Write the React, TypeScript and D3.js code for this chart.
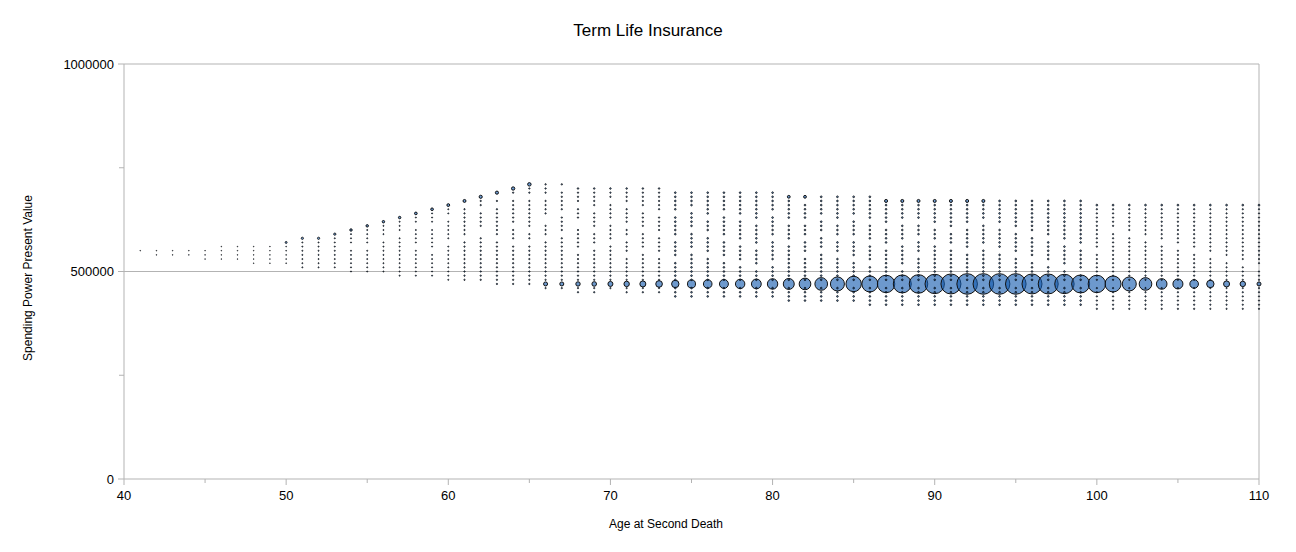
import * as React from 'react'
import * as d3 from 'd3'

// values are in units of 10 000
const UNIT = 10000;

const ages = [
  41, 42, 43, 44, 45, 46, 47, 48, 49, 50,
  51, 52, 53, 54, 55, 56, 57, 58, 59, 60,
  61, 62, 63, 64, 65, 66, 67, 68, 69, 70,
  71, 72, 73, 74, 75, 76, 77, 78, 79, 80,
  81, 82, 83, 84, 85, 86, 87, 88, 89, 90,
  91, 92, 93, 94, 95, 96, 97, 98, 99, 100,
  101, 102, 103, 104, 105, 106, 107, 108, 109, 110,
];

const columnValues: number[][] = [
  [55],
  [55, 54],
  [55, 54],
  [55, 54],
  [55, 54, 53],
  [56, 55, 54, 53],
  [56, 55, 54, 53],
  [56, 55, 54, 53, 52],
  [56, 55, 54, 53, 52],
  [57, 56, 55, 54, 53, 52],
  [58, 57, 56, 55, 54, 53, 52, 51],
  [58, 57, 56, 55, 54, 53, 52, 51],
  [59, 58, 57, 56, 55, 54, 53, 52, 51],
  [60, 59, 58, 57, 55, 54, 53, 52, 51, 50],
  [61, 60, 59, 58, 57, 55, 54, 53, 52, 51, 50],
  [62, 61, 60, 59, 57, 56, 55, 54, 53, 52, 51, 50],
  [63, 62, 61, 60, 58, 57, 56, 55, 54, 53, 52, 51, 50, 49],
  [64, 63, 62, 60, 59, 58, 57, 55, 54, 53, 52, 51, 50, 49],
  [65, 64, 63, 62, 60, 59, 58, 57, 56, 54, 53, 52, 51, 50, 49],
  [66, 65, 64, 62, 61, 60, 59, 58, 56, 55, 54, 53, 52, 51, 50, 49, 48],
  [67, 65, 64, 63, 62, 61, 60, 59, 57, 56, 55, 54, 53, 52, 51, 50, 49, 48],
  [68, 67, 66, 64, 63, 62, 61, 58, 57, 56, 55, 54, 53, 52, 51, 50, 49, 48],
  [69, 67, 65, 64, 63, 62, 61, 60, 59, 57, 56, 55, 54, 53, 52, 51, 50, 49, 48, 47],
  [70, 69, 67, 66, 65, 64, 63, 62, 60, 59, 58, 56, 55, 54, 53, 52, 51, 50, 49, 48, 47],
  [71, 70, 69, 67, 66, 65, 64, 63, 62, 61, 59, 58, 56, 55, 54, 53, 52, 51, 50, 49, 48, 47],
  [71, 70, 69, 67, 66, 65, 64, 61, 60, 59, 57, 56, 55, 54, 53, 52, 51, 50, 49, 48, 46],
  [71, 69, 68, 67, 66, 65, 63, 62, 61, 60, 58, 57, 56, 55, 54, 53, 52, 51, 50, 49, 48, 46],
  [70, 69, 68, 67, 65, 64, 63, 60, 59, 58, 57, 56, 54, 53, 52, 51, 50, 49, 48, 46, 45],
  [70, 69, 68, 67, 66, 64, 63, 62, 61, 59, 58, 57, 55, 54, 53, 52, 51, 50, 49, 48, 46, 45],
  [70, 69, 68, 66, 65, 64, 63, 61, 60, 59, 58, 56, 55, 54, 53, 52, 51, 50, 49, 48, 46],
  [70, 69, 68, 67, 65, 64, 63, 62, 60, 59, 57, 56, 55, 53, 52, 51, 50, 49, 48, 46, 45],
  [70, 69, 68, 67, 66, 64, 63, 62, 61, 59, 58, 57, 56, 54, 53, 52, 51, 50, 49, 48, 46, 45],
  [70, 69, 68, 67, 66, 65, 63, 62, 61, 60, 58, 57, 56, 55, 53, 52, 51, 50, 49, 48, 46, 45],
  [69, 68, 67, 66, 65, 63, 62, 61, 60, 59, 57, 56, 55, 54, 52, 51, 50, 49, 48, 46, 45, 44],
  [69, 68, 67, 66, 64, 63, 62, 61, 59, 58, 57, 56, 54, 53, 52, 51, 50, 49, 48, 46, 45, 44],
  [69, 68, 67, 66, 65, 64, 62, 61, 60, 58, 57, 56, 55, 53, 52, 51, 50, 49, 48, 46, 45, 44],
  [69, 68, 67, 66, 65, 63, 62, 61, 60, 59, 57, 56, 55, 54, 52, 51, 50, 49, 48, 46, 45, 44],
  [69, 68, 67, 66, 65, 64, 62, 61, 60, 59, 58, 56, 55, 54, 53, 51, 50, 49, 48, 46, 45, 44],
  [69, 68, 67, 66, 65, 64, 63, 61, 60, 59, 58, 57, 55, 54, 53, 52, 50, 49, 48, 46, 45, 44],
  [69, 68, 67, 66, 65, 63, 62, 61, 60, 59, 57, 56, 55, 54, 53, 51, 50, 49, 48, 46, 45, 44],
  [68, 67, 66, 65, 64, 63, 61, 60, 59, 58, 56, 55, 54, 53, 52, 51, 50, 49, 48, 46, 45, 44, 43],
  [68, 66, 65, 64, 63, 61, 60, 59, 57, 56, 55, 53, 52, 51, 50, 49, 48, 46, 45, 44, 43],
  [68, 67, 66, 65, 64, 62, 61, 60, 58, 57, 56, 54, 53, 52, 51, 50, 49, 48, 46, 45, 44, 43],
  [68, 67, 66, 65, 64, 63, 61, 60, 59, 57, 56, 55, 53, 52, 51, 50, 49, 48, 46, 45, 44, 43],
  [68, 67, 66, 65, 64, 62, 61, 60, 59, 57, 56, 55, 54, 52, 51, 50, 49, 48, 46, 45, 44, 43],
  [68, 67, 66, 65, 64, 63, 61, 60, 59, 58, 56, 55, 54, 53, 51, 50, 49, 48, 46, 45, 44, 43, 42],
  [67, 66, 65, 64, 63, 62, 60, 59, 58, 57, 55, 54, 53, 52, 51, 50, 49, 48, 46, 45, 44, 43, 42],
  [67, 66, 65, 64, 63, 61, 60, 59, 58, 56, 55, 54, 53, 52, 50, 49, 48, 46, 45, 44, 43, 42],
  [67, 66, 65, 64, 63, 61, 60, 59, 57, 56, 55, 53, 52, 51, 50, 49, 48, 46, 45, 44, 43, 42],
  [67, 66, 65, 64, 63, 62, 60, 59, 58, 56, 55, 54, 53, 52, 51, 50, 49, 48, 46, 45, 44, 43, 42],
  [67, 66, 65, 64, 63, 62, 61, 59, 58, 57, 55, 54, 53, 52, 51, 50, 49, 48, 46, 45, 44, 43, 42],
  [67, 66, 65, 64, 63, 62, 60, 59, 58, 57, 56, 54, 53, 52, 51, 50, 49, 48, 46, 45, 44, 43, 42],
  [67, 66, 65, 64, 63, 61, 60, 59, 58, 57, 55, 54, 53, 52, 51, 50, 49, 48, 46, 45, 44, 43, 42],
  [67, 66, 65, 64, 63, 62, 60, 59, 58, 57, 56, 54, 53, 52, 51, 50, 49, 48, 46, 45, 44, 43, 42],
  [67, 66, 65, 64, 63, 62, 61, 59, 58, 57, 56, 55, 53, 52, 51, 50, 49, 48, 46, 45, 44, 43, 42],
  [67, 66, 65, 64, 63, 62, 61, 60, 58, 57, 56, 55, 54, 52, 51, 50, 49, 48, 46, 45, 44, 43, 42],
  [67, 66, 65, 64, 63, 62, 61, 60, 59, 57, 56, 55, 54, 53, 51, 50, 49, 48, 46, 45, 44, 43, 42],
  [67, 66, 65, 64, 63, 62, 61, 60, 59, 58, 56, 55, 54, 53, 52, 50, 49, 48, 46, 45, 44, 43, 42],
  [67, 66, 65, 64, 63, 62, 61, 60, 59, 58, 57, 55, 54, 53, 52, 51, 49, 48, 46, 45, 44, 43, 42],
  [66, 65, 64, 63, 62, 61, 60, 59, 58, 57, 56, 54, 53, 52, 51, 50, 49, 48, 46, 45, 44, 43, 42, 41],
  [66, 65, 64, 63, 62, 61, 59, 58, 57, 56, 55, 54, 53, 52, 51, 50, 49, 48, 46, 45, 44, 43, 42, 41],
  [66, 65, 64, 63, 62, 61, 60, 58, 57, 56, 55, 54, 53, 52, 51, 50, 49, 48, 46, 45, 44, 43, 42, 41],
  [66, 65, 64, 63, 62, 61, 60, 59, 57, 56, 55, 54, 53, 52, 51, 50, 49, 48, 46, 45, 44, 43, 42, 41],
  [66, 65, 64, 63, 62, 61, 60, 59, 58, 56, 55, 54, 53, 52, 51, 50, 49, 48, 46, 45, 44, 43, 42, 41],
  [66, 65, 64, 63, 62, 61, 60, 59, 58, 57, 55, 54, 53, 52, 51, 50, 49, 48, 46, 45, 44, 43, 42, 41],
  [66, 65, 64, 63, 62, 61, 60, 59, 58, 57, 56, 54, 53, 52, 51, 50, 49, 48, 46, 45, 44, 43, 42, 41],
  [66, 65, 64, 63, 62, 61, 60, 59, 58, 57, 56, 55, 53, 52, 51, 50, 49, 48, 46, 45, 44, 43, 42, 41],
  [66, 65, 64, 63, 62, 61, 60, 59, 58, 57, 56, 55, 54, 52, 51, 50, 49, 48, 46, 45, 44, 43, 42, 41],
  [66, 65, 64, 63, 62, 61, 60, 59, 58, 57, 56, 55, 54, 53, 51, 50, 49, 48, 46, 45, 44, 43, 42, 41],
  [66, 65, 64, 63, 62, 61, 60, 59, 58, 57, 56, 55, 54, 53, 52, 50, 49, 48, 46, 45, 44, 43, 42, 41],
];

// bubble size of the small dots in each column, and of the top dot
const dotSizes = [
  0.12, 0.12, 0.12, 0.12, 0.12, 0.12, 0.12, 0.12, 0.12, 0.16,
  0.3, 0.3, 0.3, 0.3, 0.3, 0.3, 0.3, 0.3, 0.3, 0.3,
  0.45, 0.45, 0.45, 0.45, 0.45, 0.45, 0.45, 0.45, 0.45, 0.45,
  0.45, 0.45, 0.45, 0.7, 0.7, 0.7, 0.7, 0.7, 0.7, 0.7,
  0.7, 0.7, 0.7, 0.7, 0.7, 0.7, 0.7, 0.7, 0.7, 0.7,
  0.7, 0.7, 0.7, 0.7, 0.7, 0.7, 0.7, 0.7, 0.7, 0.45,
  0.45, 0.45, 0.45, 0.45, 0.45, 0.45, 0.4, 0.4, 0.4, 0.4,
];

const topSizes = [
  0.12, 0.12, 0.12, 0.12, 0.12, 0.12, 0.12, 0.12, 0.12, 1,
  1.3, 1.3, 1.3, 1.5, 1.5, 1.5, 1.5, 1.8, 1.8, 2,
  2.2, 2.5, 2.5, 2.8, 3, 0.5, 0.5, 0.6, 0.6, 0.6,
  0.6, 0.6, 0.6, 0.7, 0.7, 0.7, 0.7, 0.7, 0.7, 0.7,
  2, 2, 0.8, 0.8, 0.8, 0.8, 2.3, 2.3, 2.3, 2.3,
  2.3, 2.3, 2.3, 0.8, 0.8, 0.8, 0.8, 0.8, 0.8, 0.8,
  0.8, 0.8, 0.8, 0.8, 0.8, 0.8, 0.8, 0.8, 0.8, 0.8,
];

// the large bubbles
const bubbleAges = [
  66, 67, 68, 69, 70, 71, 72, 73, 74, 75,
  76, 77, 78, 79, 80, 81, 82, 83, 84, 85,
  86, 87, 88, 89, 90, 91, 92, 93, 94, 95,
  96, 97, 98, 99, 100, 101, 102, 103, 104, 105,
  106, 107, 108, 109, 110,
];
const bubbleValues = [
  47, 47, 47, 47, 47, 47, 47, 47, 47, 47,
  47, 47, 47, 47, 47, 47, 47, 47, 47, 47,
  47, 47, 47, 47, 47, 47, 47, 47, 47, 47,
  47, 47, 47, 47, 47, 47, 47, 47, 47, 47,
  47, 47, 47, 47, 47,
];
const bubbleSizes = [
  4, 4, 4.8, 5.3, 6.3, 7.3, 9, 11, 13.7, 16,
  18.5, 20, 22, 24, 27, 30, 34, 40, 49, 59,
  64, 76, 81, 86, 94, 100, 106, 106, 106, 106,
  100, 100, 94, 81, 76, 64, 49, 40, 28, 25,
  18.5, 13.7, 9, 7.3, 4,
];

const yMajor = [0, 500000, 1000000];
const yMinor = [250000, 750000];
const xMajor = [40, 50, 60, 70, 80, 90, 100, 110];
const xMinor = [45, 55, 65, 75, 85, 95, 105];

const W = 1296;
const H = 552;
const FONT = '"Liberation Sans", Arial, sans-serif';
const GRID = '#b3b3b3';
const FILL = 'rgba(20,90,175,0.62)';

const App: React.FC = () => {
  const x = d3.scaleLinear().domain([40, 110]).range([124, 1259]);
  const y = d3.scaleLinear().domain([0, 1000000]).range([479, 64]);
  const r = d3.scaleSqrt().domain([0, 106]).range([0, 10.3]);

  const dots = ages.flatMap((age, i) =>
    columnValues[i].map((v, j) => ({
      age,
      value: v * UNIT,
      size: j === 0 ? topSizes[i] : dotSizes[i],
    }))
  );

  const bubbles = bubbleAges.map((age, i) => ({
    age,
    value: bubbleValues[i] * UNIT,
    size: bubbleSizes[i],
  }));

  const [x0, x1] = x.range();
  const [yb, yt] = y.range();

  return (
    <svg width={W} height={H} style={{ position: 'absolute', left: 0, top: 0, background: '#fff' }}
      fontFamily={FONT}>
      <rect x={0} y={0} width={W} height={H} fill="#fff" />
      <text x={648} y={36} textAnchor="middle" fontSize={17}>Term Life Insurance</text>

      {/* grid + frame */}
      {yMajor.map(t => (
        <line key={'g' + t} x1={x0} x2={x1} y1={y(t)} y2={y(t)} stroke={GRID} />
      ))}
      <line x1={x1} x2={x1} y1={yt} y2={yb} stroke={GRID} />
      <line x1={x0} x2={x0} y1={yt} y2={yb} stroke={GRID} />

      {yMajor.map(t => (
        <g key={'y' + t}>
          <line x1={x0 - 6} x2={x0} y1={y(t)} y2={y(t)} stroke={GRID} />
          <text x={x0 - 10} y={y(t)} dy="0.35em" textAnchor="end" fontSize={13}>{t}</text>
        </g>
      ))}
      {yMinor.map(t => (
        <line key={'ym' + t} x1={x0 - 5} x2={x0} y1={y(t)} y2={y(t)} stroke={GRID} />
      ))}
      {xMajor.map(t => (
        <g key={'x' + t}>
          <line x1={x(t)} x2={x(t)} y1={yb} y2={yb + 6} stroke={GRID} />
          <text x={x(t)} y={yb + 21} textAnchor="middle" fontSize={13}>{t}</text>
        </g>
      ))}
      {xMinor.map(t => (
        <line key={'xm' + t} x1={x(t)} x2={x(t)} y1={yb} y2={yb + 4} stroke={GRID} />
      ))}

      <text x={666} y={528} textAnchor="middle" fontSize={12}>Age at Second Death</text>
      <text transform="translate(32,278) rotate(-90)" textAnchor="middle" fontSize={12}>
        Spending Power Present Value
      </text>

      {/* bubbles */}
      <g>
        {bubbles.map(b => (
          <circle key={'b' + b.age} cx={x(b.age)} cy={y(b.value)} r={r(b.size)}
            fill={FILL} stroke="#111" strokeWidth={1} />
        ))}
      </g>
      <g>
        {dots.map((d, i) => {
          const rad = r(d.size);
          return (
            <circle key={'d' + i} cx={x(d.age)} cy={y(d.value)} r={rad}
              fill={FILL} stroke="#000" strokeWidth={rad > 1.2 ? 0.9 : 0.75} />
          );
        })}
      </g>
    </svg>
  );
};

export default App;
